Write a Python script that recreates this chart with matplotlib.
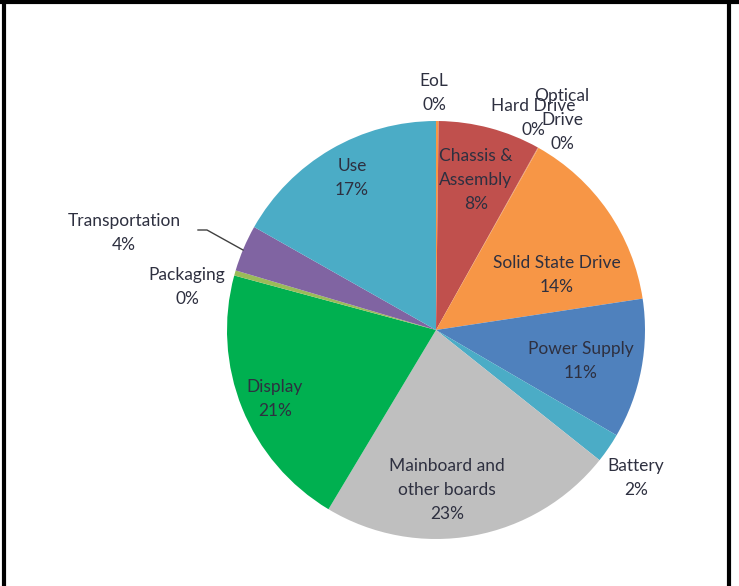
import matplotlib
matplotlib.use("Agg")
import matplotlib.pyplot as plt
from matplotlib.lines import Line2D
import numpy as np

categories = ["EoL", "Chassis &\nAssembly", "Hard Drive", "Optical\nDrive",
              "Solid State Drive", "Power Supply", "Battery",
              "Mainboard and\nother boards", "Display", "Packaging",
              "Transportation", "Use"]
values = [0.2, 7.9, 0.03, 0.03, 14.44, 10.8, 2.3, 22.9, 20.6, 0.4, 3.6, 16.8]
colors = ["#F79646", "#C0504D", "#C0504D", "#F79646", "#F79646", "#4F81BD",
          "#4BACC6", "#BFBFBF", "#00B050", "#9BBB59", "#8064A2", "#4BACC6"]

# layout (pixel positions of label centres in the 739x586 image)
W, H = 739, 586
CX, CY, R = 436, 330, 209
label_px = [(434, 93), (476, 180), (533, 118), (562, 120), (557, 275),
            (581, 361), (636, 478), (447, 490), (275, 399), (187, 287),
            (124, 233), (352, 178)]

plt.rcParams['font.family'] = ['Lato', 'DejaVu Sans']
fig = plt.figure(figsize=(W / 100, H / 100), dpi=100)
ax = fig.add_axes([0, 0, 1, 1])

ax.pie(values, colors=colors, startangle=90, counterclock=False,
       radius=1, center=(0, 0), wedgeprops=dict(linewidth=0),
       frame=True)
ax.set_xlim(-CX / R, (W - CX) / R)
ax.set_ylim((CY - H) / R, CY / R)
ax.set_aspect('equal')
ax.axis('off')

def px2d(px, py):
    return ((px - CX) / R, (CY - py) / R)

txtcol = '#2E3040'
for cat, v, (px, py) in zip(categories, values, label_px):
    x, y = px2d(px, py)
    ax.text(x, y, f"{cat}\n{round(v):.0f}%", ha='center', va='center',
            fontsize=12.5, color=txtcol, linespacing=1.62)

# leader line for Transportation
pts = [px2d(198, 230), px2d(207, 230), px2d(243, 250)]
ax.plot([p[0] for p in pts], [p[1] for p in pts], color='#404040', lw=1)

# outer frame (top, left, right)
lw = 3.0
fig.add_artist(Line2D([0, 1], [1 - 2 / H, 1 - 2 / H], color='black', lw=lw, transform=fig.transFigure))
fig.add_artist(Line2D([4 / W, 4 / W], [0, 1], color='black', lw=lw, transform=fig.transFigure))
fig.add_artist(Line2D([729 / W, 729 / W], [0, 1], color='black', lw=lw, transform=fig.transFigure))

fig.savefig("out.png", dpi=100)
